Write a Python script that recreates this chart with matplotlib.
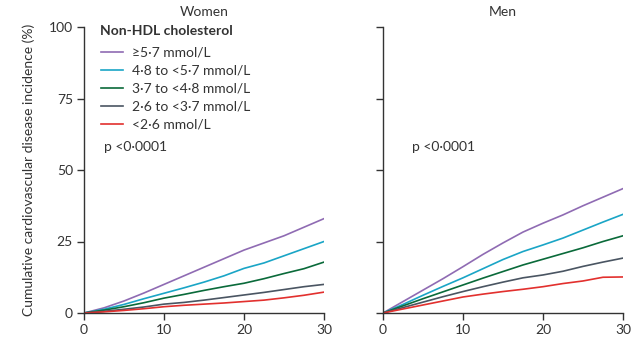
import matplotlib
matplotlib.use("Agg")
import matplotlib.pyplot as plt

plt.rcParams['font.family'] = ['Lato', 'DejaVu Sans']

years = [0, 2.5, 5, 7.5, 10, 12.5, 15, 17.5, 20, 22.5, 25, 27.5, 30]
labels = ["≥5·7 mmol/L", "4·8 to <5·7 mmol/L", "3·7 to <4·8 mmol/L",
          "2·6 to <3·7 mmol/L", "<2·6 mmol/L"]
colors = ["#8f6bb3", "#1aa5c6", "#0a6a3a", "#4a5562", "#e2302e"]

women = [
    [0, 1.8, 4.2, 7.0, 10.0, 13.0, 16.0, 19.0, 22.0, 24.5, 27.0, 30.0, 33.0],
    [0, 1.3, 3.0, 5.0, 6.9, 8.8, 10.8, 13.0, 15.6, 17.5, 20.0, 22.5, 25.0],
    [0, 1.0, 2.2, 3.6, 5.2, 6.5, 7.9, 9.2, 10.4, 12.0, 13.8, 15.5, 17.8],
    [0, 0.6, 1.3, 2.1, 3.1, 3.7, 4.5, 5.4, 6.3, 7.2, 8.2, 9.2, 10.0],
    [0, 0.4, 0.9, 1.5, 2.2, 2.7, 3.1, 3.5, 4.0, 4.5, 5.3, 6.2, 7.3],
]
men = [
    [0, 4.0, 8.0, 12.0, 16.2, 20.5, 24.5, 28.3, 31.4, 34.3, 37.5, 40.5, 43.5],
    [0, 3.0, 6.2, 9.3, 12.3, 15.5, 18.7, 21.5, 23.8, 26.2, 29.0, 31.8, 34.5],
    [0, 2.5, 5.0, 7.4, 9.8, 12.2, 14.5, 16.8, 18.8, 20.8, 22.8, 25.0, 27.0],
    [0, 1.9, 3.8, 5.7, 7.5, 9.2, 10.8, 12.3, 13.3, 14.6, 16.3, 17.8, 19.2],
    [0, 1.4, 2.8, 4.2, 5.6, 6.6, 7.5, 8.3, 9.2, 10.3, 11.2, 12.5, 12.6],
]

fig = plt.figure(figsize=(6.41, 3.44), dpi=100)
ax_w = fig.add_axes([84 / 641, 31 / 344, 240 / 641, 286 / 344])
ax_m = fig.add_axes([383 / 641, 31 / 344, 240 / 641, 286 / 344])

text_color = "#333333"
for ax, data, title in [(ax_w, women, "Women"), (ax_m, men, "Men")]:
    for series, c, lab in zip(data, colors, labels):
        ax.plot(years, series, color=c, lw=1.2, label=lab)
    ax.set_xlim(0, 30)
    ax.set_ylim(0, 100)
    ax.set_xticks([0, 10, 20, 30])
    ax.set_yticks([0, 25, 50, 75, 100])
    for s in ["top", "right"]:
        ax.spines[s].set_visible(False)
    for s in ["left", "bottom"]:
        ax.spines[s].set_color("#333333")
        ax.spines[s].set_linewidth(1.0)
    ax.tick_params(direction="out", length=5, width=1.0, color="#333333",
                   labelsize=10, labelcolor=text_color, pad=3)
    ax.set_title(title, fontsize=10, color=text_color, pad=8)
    ax.text(0.083 if ax is ax_w else 0.12, 0.58, "p <0·0001", transform=ax.transAxes,
            fontsize=10, color=text_color, va="center")

ax_m.tick_params(labelleft=False)
ax_w.set_ylabel("Cumulative cardiovascular disease incidence (%)", fontsize=10,
                color=text_color, labelpad=10)

ax_w.text(16 / 240, 0.986, "Non-HDL cholesterol", transform=ax_w.transAxes,
          fontsize=10, fontweight="bold", color=text_color, va="center")
leg = ax_w.legend(loc="upper left", bbox_to_anchor=(17 / 240, 0.931), frameon=False,
                  fontsize=10, handlelength=1.6, handletextpad=0.6,
                  labelspacing=0.43, borderaxespad=0, borderpad=0)
for t in leg.get_texts():
    t.set_color(text_color)

fig.savefig("out.png", dpi=100)
